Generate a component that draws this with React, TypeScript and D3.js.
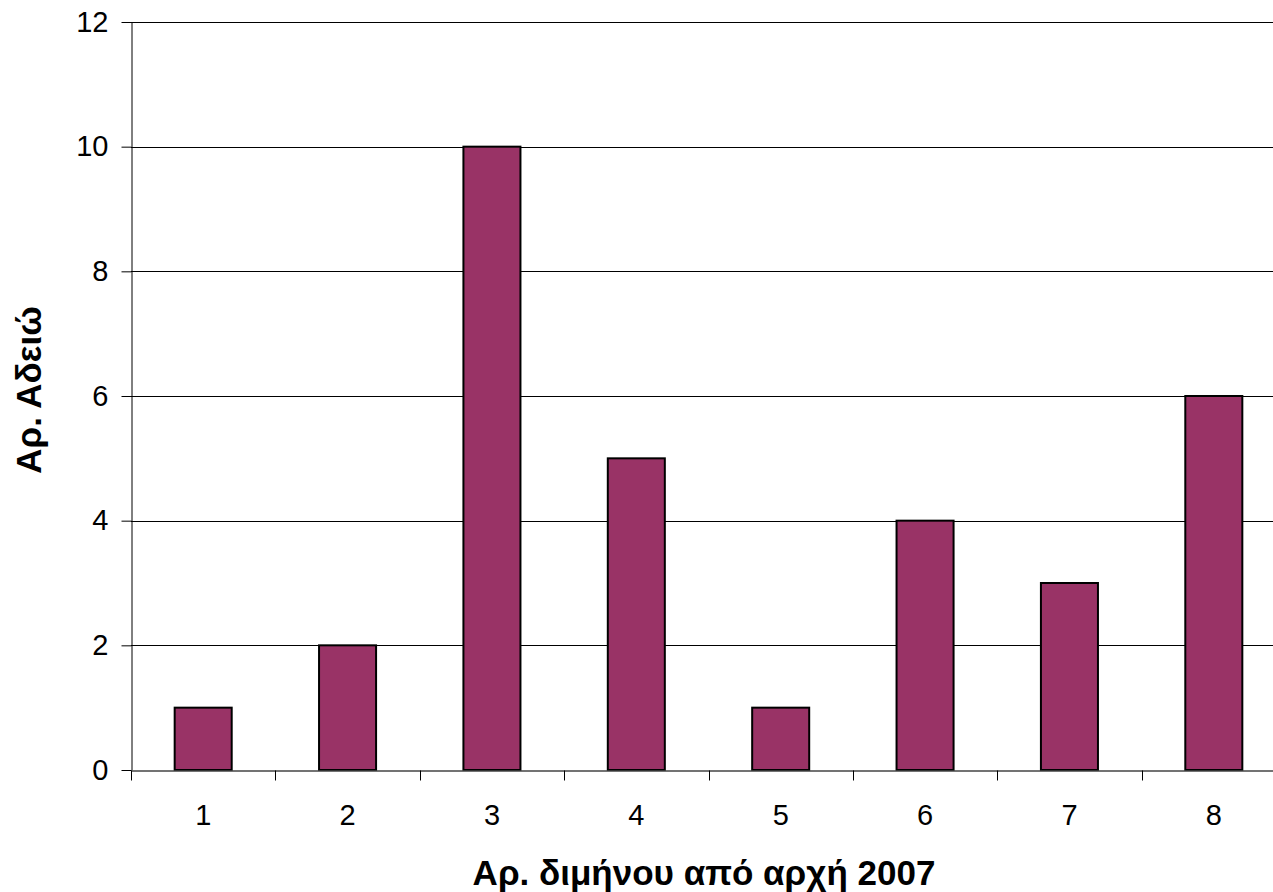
import React from "react";
import { scaleBand, scaleLinear, select, axisLeft, axisBottom } from "d3";

const categories = ["1", "2", "3", "4", "5", "6", "7", "8"];
const permits = [1, 2, 10, 5, 1, 4, 3, 6];
const yTicks = [0, 2, 4, 6, 8, 10, 12];

const xTitle = "Αρ. διμήνου από αρχή 2007";
const yTitle = "Αρ. Αδειώ";

const W = 1273;
const H = 892;
const margin = { top: 22, left: 131, bottom: 122 };
const plotRight = 1286; // plot area runs past the right edge of the picture

export default function App() {
  const svgRef = React.useRef<SVGSVGElement>(null);

  React.useEffect(() => {
    const svg = select(svgRef.current);
    svg.selectAll("*").remove();

    const x = scaleBand<string>()
      .domain(categories)
      .range([margin.left, plotRight])
      .paddingInner(0.605)
      .paddingOuter(0.3025);
    const band = scaleBand<string>().domain(categories).range([margin.left, plotRight]);

    const y = scaleLinear()
      .domain([0, 12])
      .range([H - margin.bottom, margin.top]);

    const font = "Arial, 'Liberation Sans', sans-serif";

    // gridlines
    svg
      .append("g")
      .selectAll("line")
      .data(yTicks.filter((t) => t > 0))
      .join("line")
      .attr("x1", margin.left)
      .attr("x2", W)
      .attr("y1", (d) => Math.round(y(d)) + 0.5)
      .attr("y2", (d) => Math.round(y(d)) + 0.5)
      .attr("stroke", "#000")
      .attr("stroke-width", 1);

    // bars
    svg
      .append("g")
      .selectAll("rect")
      .data(permits)
      .join("rect")
      .attr("x", (_, i) => x(categories[i])!)
      .attr("width", x.bandwidth())
      .attr("y", (d) => y(d))
      .attr("height", (d) => y(0) - y(d))
      .attr("fill", "#993366")
      .attr("stroke", "#000")
      .attr("stroke-width", 2);

    // y axis
    const ya = svg
      .append("g")
      .attr("transform", `translate(${margin.left + 0.5},0)`)
      .call(
        axisLeft(y)
          .tickValues(yTicks)
          .tickSizeOuter(0)
          .tickSizeInner(10)
          .tickPadding(13)
      );
    ya.select(".domain").attr("stroke", "#000");
    ya.selectAll(".tick line").attr("stroke", "#000");
    ya.selectAll("text")
      .attr("font-family", font)
      .attr("font-size", 29)
      .attr("fill", "#000");

    // x axis, ticks on category boundaries
    const xa = svg
      .append("g")
      .attr("transform", `translate(0,${Math.round(y(0)) + 0.5})`)
      .call(axisBottom(band).tickSize(0).tickPadding(34).tickSizeOuter(0));
    xa.select(".domain").attr("stroke", "#444").attr("stroke-width", 1.5);
    xa.selectAll("text")
      .attr("font-family", font)
      .attr("font-size", 29)
      .attr("fill", "#000");
    xa.append("g")
      .selectAll("line")
      .data(categories)
      .join("line")
      .attr("x1", (d) => Math.round(band(d)!) + 0.5)
      .attr("x2", (d) => Math.round(band(d)!) + 0.5)
      .attr("y1", 0)
      .attr("y2", 10)
      .attr("stroke", "#000");

    // titles
    svg
      .append("text")
      .attr("x", 704)
      .attr("y", 885)
      .attr("text-anchor", "middle")
      .attr("font-family", font)
      .attr("font-weight", "bold")
      .attr("font-size", 35)
      .text(xTitle);

    svg
      .append("text")
      .attr("transform", `translate(41,390) rotate(-90)`)
      .attr("text-anchor", "middle")
      .attr("font-family", font)
      .attr("font-weight", "bold")
      .attr("font-size", 35)
      .text(yTitle);
  }, []);

  return (
    <svg
      ref={svgRef}
      width={W}
      height={H}
      style={{ position: "fixed", left: 0, top: 0, background: "#fff", overflow: "hidden" }}
    />
  );
}
